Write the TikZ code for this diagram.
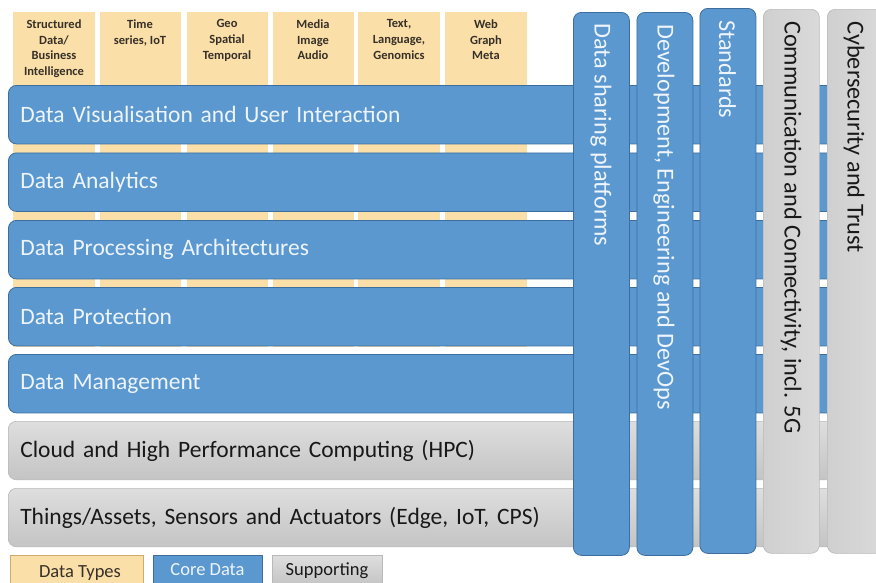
\documentclass[tikz,border=0pt]{standalone}
\usepackage{fontspec}
\setmainfont{Carlito}
\definecolor{dtfill}{RGB}{250,223,168}
\definecolor{dtborder}{RGB}{205,172,108}
\definecolor{dttext}{RGB}{55,48,40}
\definecolor{corefill}{RGB}{91,152,208}
\definecolor{coreborder}{RGB}{62,110,158}
\definecolor{coretext}{RGB}{238,244,251}
\definecolor{suptop}{RGB}{222,222,222}
\definecolor{supbot}{RGB}{196,196,196}
\definecolor{supborder}{RGB}{185,185,185}
\definecolor{suptext}{RGB}{25,25,25}
\begin{document}
\begin{tikzpicture}[x=1pt,y=-1pt,
  dtcol/.style={fill=dtfill, draw=none, anchor=north west, inner sep=0pt},
  dtlabel/.style={anchor=north, align=center, inner sep=0pt, text=dttext,
    font=\fontsize{12.5}{15.7}\selectfont\bfseries},
  corebar/.style={draw=coreborder, fill=corefill, line width=0.8pt, rounded corners=8pt,
    anchor=north west, minimum height=58.5pt, text width=818pt, inner xsep=12pt,
    align=left, text=coretext, font=\fontsize{23.5}{27}\selectfont},
  supbar/.style={draw=supborder, top color=suptop, bottom color=supbot, line width=0.6pt,
    rounded corners=8pt, anchor=north west, minimum height=58.5pt, text width=818pt,
    inner xsep=12pt, align=left, text=suptext, font=\fontsize{23.5}{27}\selectfont},
  corecol/.style={draw=coreborder, fill=corefill, line width=0.8pt, rounded corners=8pt,
    anchor=north west, minimum width=56pt, inner sep=0pt},
  supcol/.style={draw=supborder, left color=supbot!80!white, right color=suptop!95!gray,
    line width=0.6pt, rounded corners=8pt, anchor=north west, minimum width=56pt, inner sep=0pt},
  vtext/.style={rotate=-90, anchor=west, inner sep=0pt, font=\fontsize{24.3}{28}\selectfont},
  legbox/.style={anchor=north west, minimum height=30pt, inner sep=0pt, line width=0.8pt},
  legtext/.style={inner sep=0pt, font=\fontsize{18.5}{22}\selectfont}
]
\useasboundingbox (0,0) rectangle (876,582);
\clip (0,0) rectangle (876,582);

% data type columns (behind)
\node[dtcol, minimum width=82pt, minimum height=335pt] (dt1) at (13,12) {};
\node[dtcol, minimum width=81pt, minimum height=335pt] (dt2) at (100,12) {};
\node[dtcol, minimum width=81pt, minimum height=335pt] (dt3) at (187,12) {};
\node[dtcol, minimum width=81pt, minimum height=335pt] (dt4) at (273,12) {};
\node[dtcol, minimum width=82pt, minimum height=335pt] (dt5) at (358,12) {};
\node[dtcol, minimum width=82pt, minimum height=335pt] (dt6) at (445,12) {};

\node[dtlabel] (l1) at (54,19.5) {Structured\\Data/\\Business\\Intelligence};
\node[dtlabel] (l2) at (140,19.5) {Time\\series, IoT};
\node[dtlabel] (l3) at (227,19.5) {Geo\\Spatial\\Temporal};
\node[dtlabel] (l4) at (313,19.5) {Media\\Image\\Audio};
\node[dtlabel] (l5) at (399,19.5) {Text,\\Language,\\Genomics};
\node[dtlabel] (l6) at (486,19.5) {Web\\Graph\\Meta};

% horizontal bars
\node[corebar] (b1) at (8,85) {Data Visualisation and User Interaction};
\node[corebar] (b2) at (8,152.5) {Data Analytics};
\node[corebar] (b3) at (8,220) {Data Processing Architectures};
\node[corebar] (b4) at (8,287) {Data Protection};
\node[corebar] (b5) at (8,354) {Data Management};
\node[supbar] (b6) at (8,421) {Cloud and High Performance Computing (HPC)};
\node[supbar] (b7) at (8,488) {Things/Assets, Sensors and Actuators (Edge, IoT, CPS)};

% vertical columns
\node[corecol, minimum height=543pt] (c1) at (573,12) {};
\node[corecol, minimum height=543pt] (c2) at (636.5,12) {};
\node[corecol, minimum height=545pt] (c3) at (699.5,8) {};
\node[supcol, minimum height=544pt] (c4) at (763,9) {};
\node[supcol, minimum height=544pt] (c5) at (827,9) {};

\node[vtext, text=coretext] (v1) at (601,23) {Data sharing platforms};
\node[vtext, text=coretext] (v2) at (664,24) {Development, Engineering and DevOps};
\node[vtext, text=coretext] (v3) at (727.5,20) {Standards};
\node[vtext, text=suptext] (v4) at (791,21) {Communication and Connectivity, incl. 5G};
\node[vtext, text=suptext] (v5) at (854,21) {Cybersecurity and Trust};

% legend
\node[legbox, draw=dtborder, fill=dtfill, minimum width=133pt] (g1) at (10,555) {};
\node[legbox, draw=coreborder, fill=corefill, minimum width=109pt] (g2) at (153,555) {};
\node[legbox, draw=supborder, top color=suptop, bottom color=supbot, minimum width=110pt] (g3) at (272,555) {};
\node[legtext, text=dttext, anchor=base] (gt1) at (80,577) {Data Types};
\node[legtext, text=coretext, anchor=base] (gt2) at (207.5,575) {Core Data};
\node[legtext, text=suptext, anchor=base] (gt3) at (327,575) {Supporting};
\end{tikzpicture}
\end{document}
